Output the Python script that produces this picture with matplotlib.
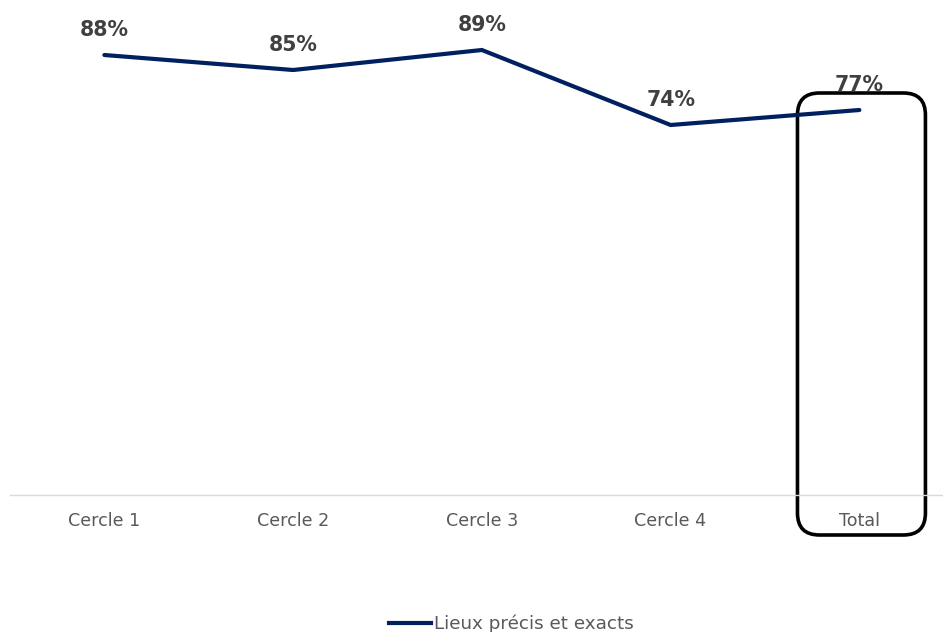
import matplotlib
matplotlib.use("Agg")
import matplotlib.pyplot as plt
from matplotlib.patches import FancyBboxPatch
from matplotlib.lines import Line2D

categories = ["Cercle 1", "Cercle 2", "Cercle 3", "Cercle 4", "Total"]
values = [88, 85, 89, 74, 77]
series_name = "Lieux précis et exacts"

navy = "#002060"
label_col = "#404040"
tick_col = "#595959"

plt.rcParams['font.family'] = ['DejaVu Sans']

fig = plt.figure(figsize=(9.43, 6.32), dpi=100)
W, H = 943, 632
ax = fig.add_axes([10 / W, (H - 495) / H, 933 / W, 495 / H])
x = list(range(len(categories)))
ax.plot(x, values, color=navy, lw=3, solid_capstyle='round', solid_joinstyle='miter')
ax.set_xlim(-0.5, -0.5 + 933 / 188.75)
ax.set_ylim(0, 99)

for xi, v in zip(x, values):
    ax.annotate(f"{v}%", (xi, v), xytext=(0, 18), textcoords='offset points',
                ha='center', va='center', fontsize=14.8, fontweight='bold',
                color=label_col)

for s in ['top', 'left', 'right']:
    ax.spines[s].set_visible(False)
ax.spines['bottom'].set_color('#d9d9d9')
ax.spines['bottom'].set_linewidth(1)
ax.set_yticks([])
ax.set_xticks(x)
ax.set_xticklabels(categories, fontsize=12.6, color=tick_col)
ax.tick_params(axis='x', length=0, pad=12.5)

# highlight box around Total
px_per_x = 188.75
px_per_y = 5.0
box = FancyBboxPatch((3.672, -8), 0.678, 88.4,
                     boxstyle=f"round,pad=0,rounding_size={22 / px_per_x}",
                     mutation_aspect=px_per_x / px_per_y,
                     transform=ax.transData, clip_on=False,
                     fill=False, edgecolor='black', lw=2.6)
ax.add_patch(box)

handle = Line2D([0], [0], color=navy, lw=3)
fig.legend([handle], [series_name], loc='center',
           bbox_to_anchor=(511 / W, 1 - 624 / H), frameon=False,
           handlelength=2.3, handletextpad=0.15, fontsize=13.2,
           labelcolor=tick_col, borderpad=0)

fig.savefig("out.png", dpi=100)
